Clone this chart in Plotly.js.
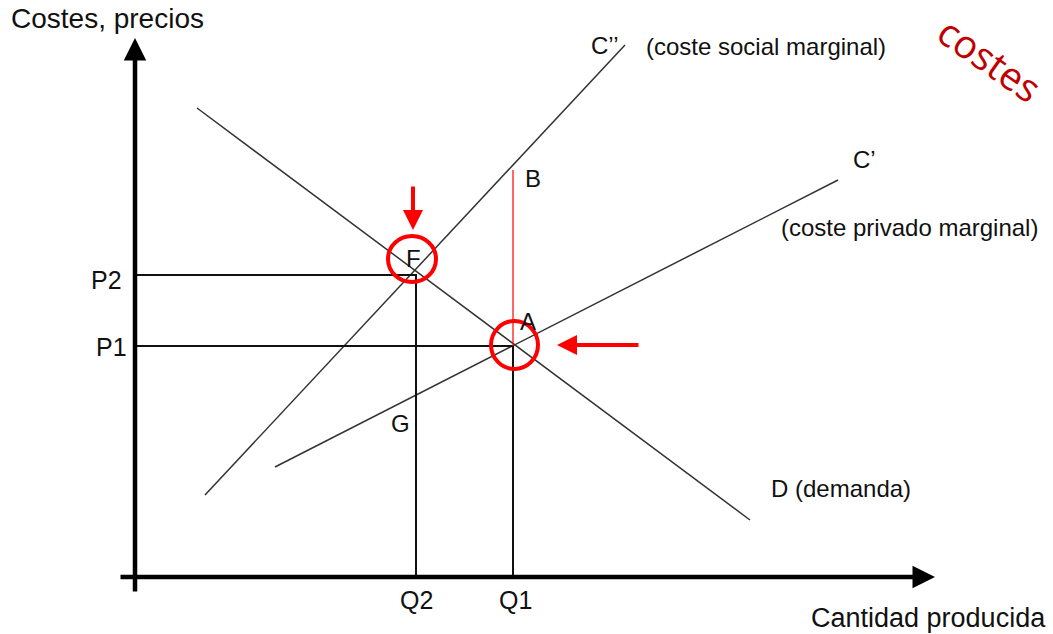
<!DOCTYPE html>
<html><head><meta charset="utf-8">
<script src="https://cdn.plot.ly/plotly-3.0.1.min.js"></script>
<style>html,body{margin:0;padding:0;background:#fff}</style>
</head><body>
<div id="chart" style="width:1053px;height:634px"></div>
<script>
// Diagram values (quantity on x, cost/price on y)
const Q2 = 281, Q1 = 378;
const P2 = 302, P1 = 231;
const demandX = [62, 615],  demandY = [469, 57];
const socialX = [70, 490],  socialY = [82, 532];
const privateX = [140, 703], privateY = [110, 397];
const B_Y = 407;
const axisXEnd = 800, axisYEnd = 539, axisStart = -16;

const labels = [
  {t:'Costes, precios', x:-126, y:559, xa:'left', s:28},
  {t:'C’’', x:470, y:532, xa:'center', s:24},
  {t:'(coste social marginal)', x:509, y:531, xa:'left', s:24},
  {t:'C’', x:729, y:418, xa:'center', s:24},
  {t:'(coste privado marginal)', x:644, y:350, xa:'left', s:24},
  {t:'B', x:398, y:399, xa:'center', s:24},
  {t:'F', x:278, y:319, xa:'center', s:24},
  {t:'A', x:393, y:256, xa:'center', s:24},
  {t:'G', x:265, y:154, xa:'center', s:24},
  {t:'D (demanda)', x:634, y:89, xa:'left', s:24},
  {t:'P2', x:-11, y:297, xa:'right', s:25},
  {t:'P1', x:-6, y:230, xa:'right', s:25},
  {t:'Q2', x:281, y:-23, xa:'center', s:25},
  {t:'Q1', x:380, y:-23, xa:'center', s:25},
  {t:'Cantidad producida', x:674, y:-41, xa:'left', s:27}
];

const lineStyle = {color:'#333', width:1.5};
const traces = [
  {x:demandX, y:demandY, mode:'lines', line:lineStyle},
  {x:socialX, y:socialY, mode:'lines', line:lineStyle},
  {x:privateX, y:privateY, mode:'lines', line:lineStyle},
  {x:[0, Q2, Q2], y:[P2, P2, 0], mode:'lines', line:{color:'#111', width:2}},
  {x:[0, Q1, Q1], y:[P1, P1, 0], mode:'lines', line:{color:'#111', width:2}},
  {x:[Q1, Q1], y:[P1, B_Y], mode:'lines', line:{color:'#f00', width:1.2}}
];

const ann = labels.map(l => ({
  x:l.x, y:l.y, xref:'x', yref:'y', text:l.t, showarrow:false,
  xanchor:l.xa, yanchor:'middle',
  font:{family:'Liberation Sans, Arial, sans-serif', size:l.s, color:'#111'}
}));
// axes arrows
ann.push({x:0, y:axisYEnd, ax:0, ay:axisStart, xref:'x', yref:'y', axref:'x', ayref:'y',
  showarrow:true, arrowhead:2, arrowsize:1, arrowwidth:4.5, arrowcolor:'#000', text:''});
ann.push({x:axisXEnd, y:0, ax:axisStart, ay:0, xref:'x', yref:'y', axref:'x', ayref:'y',
  showarrow:true, arrowhead:2, arrowsize:1, arrowwidth:4.5, arrowcolor:'#000', text:''});
// red arrows
ann.push({x:Q2-3, y:347, ax:Q2-3, ay:392, xref:'x', yref:'y', axref:'x', ayref:'y',
  showarrow:true, arrowhead:2, arrowsize:1, arrowwidth:4, arrowcolor:'#f00', text:''});
ann.push({x:422, y:P1+1, ax:505, ay:P1+1, xref:'x', yref:'y', axref:'x', ayref:'y',
  showarrow:true, arrowhead:2, arrowsize:1, arrowwidth:4, arrowcolor:'#f00', text:''});
// red handwritten word
ann.push({x:855, y:519, xref:'x', yref:'y', text:'costes', showarrow:false, textangle:35,
  font:{family:'Open Sans, sans-serif', size:39, color:'#c00000'}});

const shapes = [
  {type:'circle', xref:'x', yref:'y', x0:Q2-28, x1:Q2+20, y0:P2-7, y1:P2+39, line:{color:'#f00', width:4}},
  {type:'circle', xref:'x', yref:'y', x0:Q1-22, x1:Q1+25, y0:P1-23, y1:P1+25, line:{color:'#f00', width:4}}
];

Plotly.newPlot('chart', traces, {
  width:1053, height:634, margin:{l:0,r:0,t:0,b:0},
  paper_bgcolor:'#fff', plot_bgcolor:'#fff', showlegend:false,
  xaxis:{range:[-135, 918], visible:false, fixedrange:true},
  yaxis:{range:[-57, 577], visible:false, fixedrange:true},
  annotations:ann, shapes:shapes
}, {staticPlot:true});
</script>
</body></html>
